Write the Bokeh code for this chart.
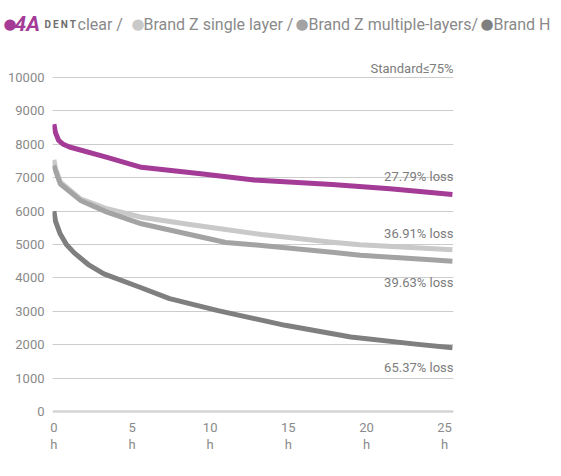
from bokeh.plotting import figure
from bokeh.models import Range1d, FixedTicker, Label, Span, LinearAxis, ColumnDataSource, CustomJSTickFormatter
from bokeh.embed import file_html
from bokeh.resources import INLINE

# ---------------- data ----------------
hours_clear = [0, 0.1, 0.3, 0.6, 1.0, 3.4, 5.6, 9.4, 12.8, 17.8, 21.5, 25.5]
force_clear = [8600, 8350, 8120, 8000, 7920, 7610, 7310, 7120, 6930, 6800, 6670, 6500]

hours_single = [0, 0.1, 0.42, 1.7, 3.4, 5.6, 8.7, 13.3, 17.8, 19.6, 25.5]
force_single = [7536, 7275, 6865, 6368, 6070, 5817, 5600, 5300, 5070, 4990, 4840]

hours_multi = [0, 0.1, 0.4, 1.7, 3.4, 5.6, 8.7, 11, 13.3, 17.8, 19.6, 24.1, 25.5]
force_multi = [7365, 7215, 6820, 6320, 5970, 5620, 5300, 5060, 4970, 4770, 4680, 4540, 4500]

hours_h = [0, 0.1, 0.4, 0.8, 1.3, 2.2, 3.2, 5.5, 7.4, 10.5, 14.8, 19.0, 23.3, 25.5]
force_h = [6000, 5700, 5320, 5000, 4750, 4400, 4120, 3720, 3380, 3020, 2580, 2230, 2010, 1910]

series_names = ["clear /", "Brand Z single layer /", "Brand Z multiple-layers/", "Brand H"]
loss_labels = ["27.79% loss", "36.91% loss", "39.63% loss", "65.37% loss"]
brand_logo = ["4A", "D\u2009E\u2009N\u2009T"]
standard_text = "Standard\u226475%"
x_ticks = [0, 5, 10, 15, 20, 25]
x_unit = "h"
y_ticks = [0, 1000, 2000, 3000, 4000, 5000, 6000, 7000, 8000, 9000, 10000]

# ---------------- styles ----------------
PURPLE = "#a33b97"
LIGHT = "#c9c9c9"
MID = "#a3a3a3"
DARK = "#7f7f7f"
TEXT = "#8a8a8a"
LABEL = "#7c7c7c"
FONT = "Roboto"

W = 560
HH = 40            # header strip height
HM = 434           # main chart height
BL, BR, BT, BB = 52, 107, 0, 60
X0, X1 = -0.09, 25.57
Y0, Y1 = -90, 11108

# ---------------- header legend strip ----------------
hdr = figure(width=W, height=HH, x_range=Range1d(0, W), y_range=Range1d(0, HH),
             output_backend="svg", toolbar_location=None,
             x_axis_type=None, y_axis_type=None,
             min_border_left=0, min_border_right=0, min_border_top=0, min_border_bottom=0)
hdr.outline_line_color = None
hdr.xgrid.grid_line_color = None
hdr.ygrid.grid_line_color = None

header_items = [
    ("\u25cf", 3, PURPLE, "DejaVu Sans", "15px", "normal"),
    (brand_logo[0], 14, PURPLE, FONT, "21px", "bold italic"),
    (brand_logo[1], 44, "#6e6e6e", FONT, "10px", "bold"),
    (series_names[0], 77, TEXT, FONT, "16px", "normal"),
    ("\u25cf", 131, LIGHT, "DejaVu Sans", "15px", "normal"),
    (series_names[1], 143, TEXT, FONT, "16px", "normal"),
    ("\u25cf", 295, MID, "DejaVu Sans", "15px", "normal"),
    (series_names[2], 308, TEXT, FONT, "16px", "normal"),
    ("\u25cf", 480, DARK, "DejaVu Sans", "15px", "normal"),
    (series_names[3], 493, TEXT, FONT, "16px", "normal"),
]
hsrc = ColumnDataSource(dict(
    x=[it[1] for it in header_items],
    y=[HH - 23.5] * len(header_items),
    text=[it[0] for it in header_items],
    color=[it[2] for it in header_items],
    font=[it[3] for it in header_items],
    size=[it[4] for it in header_items],
    style=[it[5] for it in header_items],
))
hdr.text(x="x", y="y", text="text", source=hsrc, text_color="color", text_font="font",
         text_font_size="size", text_font_style="style", text_align="left",
         text_baseline="alphabetic")

# ---------------- main chart ----------------
p = figure(width=W, height=HM, x_range=Range1d(X0, X1), y_range=Range1d(Y0, Y1),
           output_backend="svg", toolbar_location=None,
           min_border_left=BL, min_border_right=BR, min_border_top=BT, min_border_bottom=BB)
p.outline_line_color = None

p.xaxis.ticker = FixedTicker(ticks=x_ticks)
p.yaxis.ticker = FixedTicker(ticks=y_ticks)
unit_axis = LinearAxis(ticker=FixedTicker(ticks=x_ticks),
                       formatter=CustomJSTickFormatter(args=dict(u=x_unit), code="return u;"))
p.add_layout(unit_axis, "below")

for ax in (p.xaxis[0], p.yaxis[0], unit_axis):
    ax.axis_line_color = None
    ax.major_tick_line_color = None
    ax.minor_tick_line_color = None
    ax.major_tick_out = 0
    ax.major_tick_in = 0
    ax.major_label_text_font = FONT
    ax.major_label_text_font_size = "13px"
    ax.major_label_text_color = TEXT
p.yaxis.major_label_standoff = 8
p.xaxis[0].major_label_standoff = 8
unit_axis.major_label_standoff = 2

p.xgrid.grid_line_color = None
p.ygrid.grid_line_color = "#cccccc"
p.ygrid.grid_line_width = 1
p.add_layout(Span(location=0, dimension="width", line_color="#d4d4d4", line_width=2.5))

series = [
    (hours_clear, force_clear, PURPLE),
    (hours_single, force_single, LIGHT),
    (hours_multi, force_multi, MID),
    (hours_h, force_h, DARK),
]
for xs, ys, c in series:
    p.line(xs, ys, line_color=c, line_width=5, line_join="round", line_cap="butt")

offsets = [18, 16.5, -21.5, -19.5]
for (xs, ys, c), lab, off in zip(series, loss_labels, offsets):
    p.add_layout(Label(x=X1, y=ys[-1], y_offset=off, text=lab, text_align="right",
                       text_baseline="alphabetic", text_font=FONT, text_font_size="13px",
                       text_color=LABEL))

p.add_layout(Label(x=X1, y=y_ticks[-1], y_offset=9, text=standard_text, text_align="right",
                   text_baseline="alphabetic", text_font=FONT, text_font_size="13px",
                   text_color=LABEL))

open("out.html", "w").write(file_html([hdr, p], INLINE))
